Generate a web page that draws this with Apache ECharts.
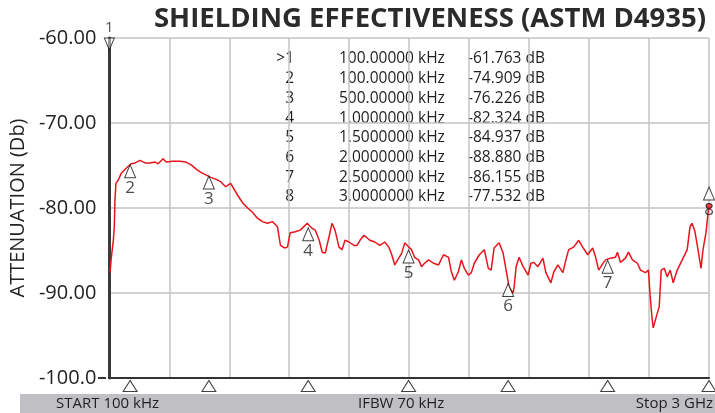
<!DOCTYPE html>
<html>
<head>
<meta charset="utf-8">
<script src="https://cdn.jsdelivr.net/npm/echarts@6/dist/echarts.min.js"></script>
<style>
  html, body { margin: 0; padding: 0; background: #fff; }
  #chart { width: 715px; height: 413px; }
</style>
</head>
<body>
<div id="chart"></div>
<script>
// trace: frequency (MHz) vs attenuation (dB)
const freqMHz = [3.5, 10, 20, 25, 28, 33, 45, 60, 85, 109, 129, 154, 179, 204, 229, 244, 269, 284, 318, 353, 383, 408, 433, 458, 483, 507, 532, 557, 582, 607, 642, 667, 692, 716, 741, 766, 791, 816, 841, 856, 876, 891, 905, 930, 955, 990, 1015, 1030, 1050, 1065, 1080, 1099, 1114, 1129, 1149, 1164, 1179, 1199, 1224, 1239, 1254, 1274, 1289, 1303, 1328, 1353, 1378, 1398, 1413, 1428, 1448, 1463, 1478, 1498, 1512, 1527, 1547, 1562, 1577, 1597, 1622, 1647, 1672, 1697, 1711, 1726, 1746, 1761, 1776, 1796, 1811, 1826, 1836, 1851, 1876, 1896, 1910, 1925, 1950, 1970, 1985, 2000, 2020, 2025, 2035, 2050, 2070, 2095, 2109, 2124, 2144, 2169, 2184, 2209, 2224, 2244, 2269, 2284, 2298, 2323, 2348, 2368, 2393, 2418, 2433, 2448, 2473, 2483, 2507, 2532, 2542, 2557, 2582, 2597, 2617, 2642, 2657, 2682, 2697, 2706, 2716, 2721, 2741, 2751, 2761, 2776, 2791, 2806, 2821, 2841, 2866, 2891, 2905, 2915, 2930, 2945, 2960, 2970, 2985, 2995, 3000];
const attenDb = [-87.6, -85.8, -83.8, -82.2, -79.1, -77.1, -76.7, -75.9, -75.3, -74.8, -74.7, -74.4, -74.7, -74.7, -74.6, -74.8, -74.2, -74.6, -74.5, -74.5, -74.6, -74.9, -75.4, -75.8, -76.1, -76.4, -76.6, -76.9, -77.5, -77.1, -78.5, -79.4, -80.0, -80.5, -81.2, -81.6, -81.8, -81.6, -82.2, -84.4, -84.7, -84.6, -82.9, -82.8, -82.6, -81.8, -82.4, -82.6, -83.8, -85.2, -85.3, -83.4, -81.8, -82.6, -84.6, -84.9, -83.8, -84.0, -84.4, -84.4, -83.8, -83.2, -83.5, -83.8, -84.0, -84.4, -84.0, -84.6, -85.5, -86.7, -85.9, -85.3, -84.1, -84.6, -84.9, -85.8, -86.1, -86.9, -86.5, -86.1, -86.5, -86.7, -85.5, -85.8, -87.5, -88.5, -87.5, -86.1, -87.1, -87.9, -87.6, -86.5, -86.4, -85.5, -84.9, -87.1, -87.3, -84.7, -84.1, -85.3, -87.3, -89.3, -90.0, -89.3, -86.9, -85.8, -86.9, -87.9, -86.5, -86.4, -86.9, -85.9, -87.6, -88.8, -87.5, -86.7, -87.6, -86.1, -84.9, -84.6, -83.8, -84.6, -85.5, -84.7, -85.8, -87.3, -86.4, -86.1, -85.9, -85.8, -85.2, -86.4, -85.9, -85.2, -86.1, -86.5, -87.3, -87.6, -87.3, -90.5, -93.2, -94.1, -92.4, -91.6, -87.3, -87.1, -88.1, -87.3, -88.8, -87.3, -86.1, -84.9, -82.2, -81.8, -82.8, -84.9, -87.1, -84.9, -82.9, -80.6, -79.8];

// markers 2..8 on the trace
const markerIds = ['2', '3', '4', '5', '6', '7', '8'];
const markerFreq = [104, 498, 995, 1497, 1995, 2493, 3000];
const markerDb = [-74.909, -76.226, -82.324, -84.937, -88.880, -86.155, -77.532];

// marker readout table
const tableIds = ['>1', '2', '3', '4', '5', '6', '7', '8'];
const tableFreq = ['100.00000 kHz', '100.00000 kHz', '500.00000 kHz', '1.0000000 kHz', '1.5000000 kHz', '2.0000000 kHz', '2.5000000 kHz', '3.0000000 kHz'];
const tableDb = ['-61.763 dB', '-74.909 dB', '-76.226 dB', '-82.324 dB', '-84.937 dB', '-88.880 dB', '-86.155 dB', '-77.532 dB'];

const FONT = '"Open Sans", "Noto Sans", sans-serif';
const NARROW = '"Liberation Sans Narrow", "Open Sans", sans-serif';
const triUp = 'path://M5,0 L10,12 L0,12 Z';
const triDown = 'path://M0,0 L10,0 L5,12 Z';

const tableText = [];
tableIds.forEach(function (id, i) {
    const y = 51 + i * 19.7;
    tableText.push({ type: 'text', right: 715 - 294, top: y, style: { text: id, font: '15.5px ' + FONT, fill: '#1e1e1e', textAlign: 'right' } });
    tableText.push({ type: 'text', left: 339, top: y, style: { text: tableFreq[i], font: '15.5px ' + FONT, fill: '#1e1e1e' } });
    tableText.push({ type: 'text', left: 468, top: y, style: { text: tableDb[i], font: '15.5px ' + FONT, fill: '#1e1e1e' } });
});

const chart = echarts.init(document.getElementById('chart'));
chart.setOption({
    animation: false,
    title: {
        text: 'SHIELDING EFFECTIVENESS (ASTM D4935)',
        left: 425,
        textAlign: 'center',
        top: 0,
        textStyle: { fontFamily: FONT, fontWeight: 'bold', fontSize: 27.5, color: '#2b2b2b' }
    },
    grid: { left: 106, right: 6, top: 38, bottom: 35 },
    xAxis: {
        type: 'value', min: 0, max: 3000, interval: 300,
        axisLine: { lineStyle: { color: '#333', width: 2 } },
        axisTick: { show: false },
        axisLabel: { show: false },
        splitLine: { lineStyle: { color: '#c4c4c4', width: 1.5 } }
    },
    yAxis: {
        type: 'value', min: -100, max: -60, interval: 10,
        name: 'ATTENUATION (Db)', nameLocation: 'middle', nameGap: 80, nameRotate: 90,
        nameTextStyle: { fontFamily: FONT, fontSize: 20, color: '#222' },
        axisLine: { show: true, lineStyle: { color: '#3a3a3a', width: 3 } },
        axisTick: { show: false },
        axisLabel: {
            margin: 13, fontFamily: FONT, fontSize: 20, color: '#222',
            formatter: function (v) { return v === -100 ? '-100.0' : v.toFixed(2); }
        },
        splitLine: { lineStyle: { color: '#c4c4c4', width: 1.5 } }
    },
    series: [
        {
            type: 'line',
            data: freqMHz.map(function (f, i) { return [f, attenDb[i]]; }),
            showSymbol: false,
            lineStyle: { color: '#e8141c', width: 1.5 },
            z: 2
        },
        {
            // end-of-trace dot
            type: 'scatter',
            data: [[freqMHz[freqMHz.length - 1], attenDb[attenDb.length - 1]]],
            symbolSize: 6,
            itemStyle: { color: '#e8141c' },
            z: 3
        },
        {
            type: 'scatter',
            data: markerFreq.map(function (f, i) { return { name: markerIds[i], value: [f, markerDb[i]] }; }),
            symbol: triUp,
            symbolSize: [11, 13],
            symbolOffset: [0, '50%'],
            clip: false,
            itemStyle: { color: 'rgba(255,255,255,0.85)', borderColor: '#111', borderWidth: 1 },
            label: { show: true, position: 'bottom', distance: 1, formatter: '{b}', fontFamily: FONT, fontSize: 17, color: '#222' },
            z: 4
        },
        {
            // marker 1 at the top of the screen
            type: 'scatter',
            data: [{ name: '1', value: [0, -60] }],
            symbol: triDown,
            symbolSize: [10, 12],
            symbolOffset: [0, '50%'],
            clip: false,
            itemStyle: { color: 'rgba(255,255,255,0.6)', borderColor: '#111', borderWidth: 1 },
            label: { show: true, position: 'top', distance: 2, formatter: '{b}', fontFamily: FONT, fontSize: 15, color: '#222' },
            z: 4
        },
        {
            // stimulus position markers under the graticule
            type: 'scatter',
            data: markerFreq.map(function (f) { return [f, -100]; }),
            symbol: triUp,
            symbolSize: [14, 11],
            symbolOffset: [0, 8],
            clip: false,
            itemStyle: { color: '#fff', borderColor: '#111', borderWidth: 1 },
            z: 4
        }
    ],
    graphic: [
        { type: 'rect', shape: { x: 20, y: 394, width: 695, height: 19 }, style: { fill: '#c0c0c4' } },
        { type: 'text', left: 56, top: 396, style: { text: 'START 100 kHz', font: '15px ' + NARROW, fill: '#222' } },
        { type: 'text', left: 358, top: 396, style: { text: 'IFBW 70 kHz', font: '15px ' + NARROW, fill: '#222' } },
        { type: 'text', right: 2, top: 396, style: { text: 'Stop 3 GHz', font: '15px ' + NARROW, fill: '#222' } },
        { type: 'line', shape: { x1: 98, y1: 378, x2: 106, y2: 378 }, style: { stroke: '#333', lineWidth: 2 } }
    ].concat(tableText)
});
</script>
</body>
</html>
